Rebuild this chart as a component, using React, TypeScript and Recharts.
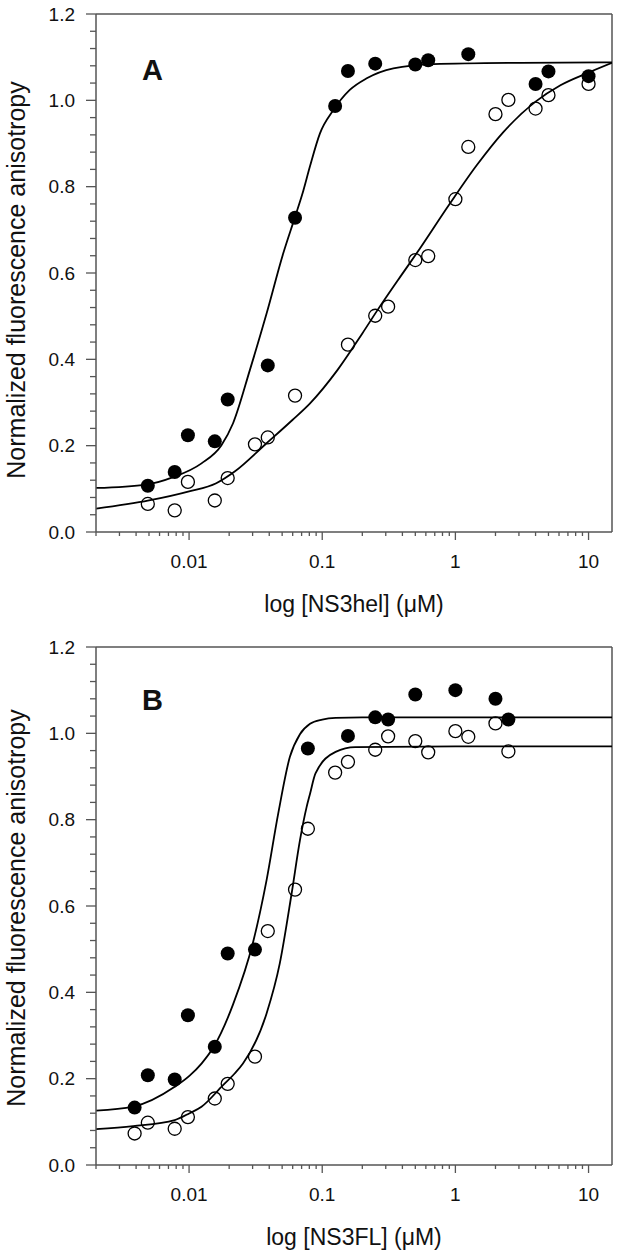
import React from "react";
import {
  ComposedChart,
  Line,
  Scatter,
  XAxis,
  YAxis,
  ReferenceLine,
} from "recharts";

// ---- Panel A : NS3hel ----
const filledAConc = [0.0049, 0.0078, 0.0098, 0.0156, 0.0195, 0.039, 0.0625, 0.125, 0.156, 0.25, 0.5, 0.625, 1.25, 4, 5, 10];
const filledAVal = [0.107, 0.139, 0.224, 0.21, 0.307, 0.386, 0.728, 0.987, 1.068, 1.085, 1.083, 1.093, 1.107, 1.038, 1.067, 1.056];
const openAConc = [0.0049, 0.0078, 0.0098, 0.0156, 0.0195, 0.03125, 0.039, 0.0625, 0.156, 0.25, 0.3125, 0.5, 0.625, 1, 1.25, 2, 2.5, 4, 5, 10];
const openAVal = [0.065, 0.05, 0.116, 0.073, 0.125, 0.203, 0.219, 0.316, 0.434, 0.501, 0.522, 0.63, 0.639, 0.771, 0.892, 0.968, 1.001, 0.981, 1.012, 1.038];

// fitted curves
const fitFilledAConc = [0.002, 0.0048, 0.0076, 0.0124, 0.0175, 0.0214, 0.0286, 0.0382, 0.0509, 0.0625, 0.072, 0.0807, 0.096, 0.121, 0.161, 0.216, 0.342, 0.684, 3.07, 15];
const fitFilledAVal = [0.102, 0.11, 0.127, 0.159, 0.201, 0.252, 0.375, 0.506, 0.645, 0.73, 0.79, 0.846, 0.923, 0.977, 1.024, 1.051, 1.074, 1.084, 1.087, 1.088];
const fitOpenAConc = [0.002, 0.005, 0.01, 0.016, 0.022, 0.038, 0.06, 0.081, 0.13, 0.2, 0.26, 0.385, 0.51, 0.91, 1.45, 2.3, 4, 6.15, 9.75, 15];
const fitOpenAVal = [0.054, 0.073, 0.094, 0.113, 0.14, 0.205, 0.26, 0.298, 0.375, 0.46, 0.514, 0.591, 0.645, 0.761, 0.85, 0.927, 0.997, 1.035, 1.063, 1.087];

// ---- Panel B : NS3FL ----
const filledBConc = [0.0039, 0.0049, 0.0078, 0.0098, 0.0156, 0.0195, 0.03125, 0.078, 0.156, 0.25, 0.3125, 0.5, 1, 2, 2.5];
const filledBVal = [0.133, 0.208, 0.198, 0.347, 0.274, 0.49, 0.499, 0.965, 0.994, 1.037, 1.032, 1.09, 1.1, 1.08, 1.032];
const openBConc = [0.0039, 0.0049, 0.0078, 0.0098, 0.0156, 0.0195, 0.03125, 0.039, 0.0625, 0.078, 0.125, 0.156, 0.25, 0.3125, 0.5, 0.625, 1, 1.25, 2, 2.5];
const openBVal = [0.073, 0.098, 0.084, 0.111, 0.154, 0.188, 0.251, 0.542, 0.638, 0.779, 0.909, 0.934, 0.962, 0.993, 0.982, 0.956, 1.005, 0.992, 1.023, 0.958];

const fitFilledBConc = [0.002, 0.0038, 0.0078, 0.0101, 0.0124, 0.0154, 0.0214, 0.0303, 0.0382, 0.0467, 0.0571, 0.068, 0.081, 0.1, 0.126, 0.2, 1, 15];
const fitFilledBVal = [0.126, 0.135, 0.181, 0.207, 0.235, 0.275, 0.372, 0.517, 0.66, 0.814, 0.945, 0.998, 1.022, 1.032, 1.036, 1.037, 1.037, 1.037];
const fitOpenBConc = [0.002, 0.0038, 0.0078, 0.0101, 0.0124, 0.018, 0.022, 0.0254, 0.0382, 0.048, 0.0589, 0.068, 0.0763, 0.081, 0.089, 0.126, 0.177, 1, 15];
const fitOpenBVal = [0.083, 0.09, 0.104, 0.12, 0.135, 0.185, 0.212, 0.235, 0.351, 0.467, 0.629, 0.752, 0.829, 0.86, 0.907, 0.957, 0.968, 0.97, 0.97];

// ---- axes ----
const xMajorTicks = [0.01, 0.1, 1, 10];
const xMinorTicks = [
  0.002, 0.003, 0.004, 0.005, 0.006, 0.007, 0.008, 0.009,
  0.02, 0.03, 0.04, 0.05, 0.06, 0.07, 0.08, 0.09,
  0.2, 0.3, 0.4, 0.5, 0.6, 0.7, 0.8, 0.9,
  2, 3, 4, 5, 6, 7, 8, 9,
];
const yMajorTicks = [0, 0.2, 0.4, 0.6, 0.8, 1.0, 1.2];
const yMinorTicks = [
  0.04, 0.08, 0.12, 0.16, 0.24, 0.28, 0.32, 0.36, 0.44, 0.48, 0.52, 0.56,
  0.64, 0.68, 0.72, 0.76, 0.84, 0.88, 0.92, 0.96, 1.04, 1.08, 1.12, 1.16,
];

const FONT = "Arial, 'Liberation Sans', sans-serif";
const AXIS = "#555";

const toPoints = (xs: number[], ys: number[]) => xs.map((x, i) => ({ x, y: ys[i] }));

function XTick(props: any) {
  const { x, y, payload } = props;
  const major = xMajorTicks.includes(payload.value);
  return (
    <g>
      <line x1={x} y1={y} x2={x} y2={y + (major ? 8 : 4)} stroke={AXIS} strokeWidth={1.3} />
      {major && (
        <text x={x} y={y + 36} textAnchor="middle" fontSize={19} fontFamily={FONT} fill="#111">
          {String(payload.value)}
        </text>
      )}
    </g>
  );
}

function YTick(props: any) {
  const { x, y, payload } = props;
  const major = yMajorTicks.includes(payload.value);
  return (
    <g>
      <line x1={x - (major ? 10 : 6)} y1={y} x2={x} y2={y} stroke={AXIS} strokeWidth={1.3} />
      {major && (
        <text x={x - 21} y={y + 6.5} textAnchor="end" fontSize={19} fontFamily={FONT} fill="#111">
          {payload.value.toFixed(1)}
        </text>
      )}
    </g>
  );
}

const filledDot = (p: any) => <circle cx={p.cx} cy={p.cy} r={7} fill="#000" />;
const openDot = (p: any) => (
  <circle cx={p.cx} cy={p.cy} r={6.5} fill="none" stroke="#000" strokeWidth={1.3} />
);

interface PanelProps {
  top: number;
  xAxisHeight: number;
  filled: { x: number; y: number }[];
  open: { x: number; y: number }[];
  fitFilled: { x: number; y: number }[];
  fitOpen: { x: number; y: number }[];
}

function Panel({ top, xAxisHeight, filled, open, fitFilled, fitOpen }: PanelProps) {
  return (
    <ComposedChart width={620} height={630} margin={{ top, right: 8, bottom: 0, left: 0 }}>
      <XAxis
        type="number"
        dataKey="x"
        scale="log"
        domain={[0.002, 15]}
        allowDataOverflow
        ticks={[...xMinorTicks, ...xMajorTicks]}
        interval={0}
        tick={<XTick />}
        tickLine={false}
        tickSize={0}
        tickMargin={0}
        axisLine={{ stroke: AXIS, strokeWidth: 1.5 }}
        height={xAxisHeight}
      />
      <YAxis
        type="number"
        dataKey="y"
        domain={[0, 1.2]}
        allowDataOverflow
        ticks={[...yMinorTicks, ...yMajorTicks]}
        interval={0}
        tick={<YTick />}
        tickLine={false}
        tickSize={0}
        tickMargin={0}
        axisLine={{ stroke: AXIS, strokeWidth: 1.5 }}
        width={96}
      />
      <ReferenceLine y={1.2} stroke={AXIS} strokeWidth={1.5} ifOverflow="visible" />
      <ReferenceLine x={15} stroke={AXIS} strokeWidth={1.5} ifOverflow="visible" />
      <Line data={fitFilled} dataKey="y" type="monotone" dot={false} stroke="#000" strokeWidth={1.8} isAnimationActive={false} />
      <Line data={fitOpen} dataKey="y" type="monotone" dot={false} stroke="#000" strokeWidth={1.8} isAnimationActive={false} />
      <Scatter data={filled} dataKey="y" shape={filledDot} isAnimationActive={false} />
      <Scatter data={open} dataKey="y" shape={openDot} isAnimationActive={false} />
    </ComposedChart>
  );
}

export default function App() {
  return (
    <div style={{ position: "absolute", left: 0, top: 0, width: 620, height: 1260, background: "#fff" }}>
      <div style={{ position: "absolute", left: 0, top: 0 }}>
        <Panel
          top={14}
          xAxisHeight={98}
          filled={toPoints(filledAConc, filledAVal)}
          open={toPoints(openAConc, openAVal)}
          fitFilled={toPoints(fitFilledAConc, fitFilledAVal)}
          fitOpen={toPoints(fitOpenAConc, fitOpenAVal)}
        />
      </div>
      <div style={{ position: "absolute", left: 0, top: 630 }}>
        <Panel
          top={17}
          xAxisHeight={95}
          filled={toPoints(filledBConc, filledBVal)}
          open={toPoints(openBConc, openBVal)}
          fitFilled={toPoints(fitFilledBConc, fitFilledBVal)}
          fitOpen={toPoints(fitOpenBConc, fitOpenBVal)}
        />
      </div>
      <svg
        width={620}
        height={1260}
        style={{ position: "absolute", left: 0, top: 0, pointerEvents: "none" }}
        fontFamily={FONT}
        fill="#111"
      >
        <text x={142} y={80} fontSize={29} fontWeight="bold">A</text>
        <text x={142} y={710} fontSize={29} fontWeight="bold">B</text>
        <text x={16} y={280} fontSize={25} textAnchor="middle" dominantBaseline="central" transform="rotate(-90 16 280)">
          Normalized fluorescence anisotropy
        </text>
        <text x={16} y={908} fontSize={25} textAnchor="middle" dominantBaseline="central" transform="rotate(-90 16 908)">
          Normalized fluorescence anisotropy
        </text>
        <text x={354} y={612} fontSize={23} textAnchor="middle">log [NS3hel] (μM)</text>
        <text x={354} y={1245} fontSize={23} textAnchor="middle">log [NS3FL] (μM)</text>
      </svg>
    </div>
  );
}
